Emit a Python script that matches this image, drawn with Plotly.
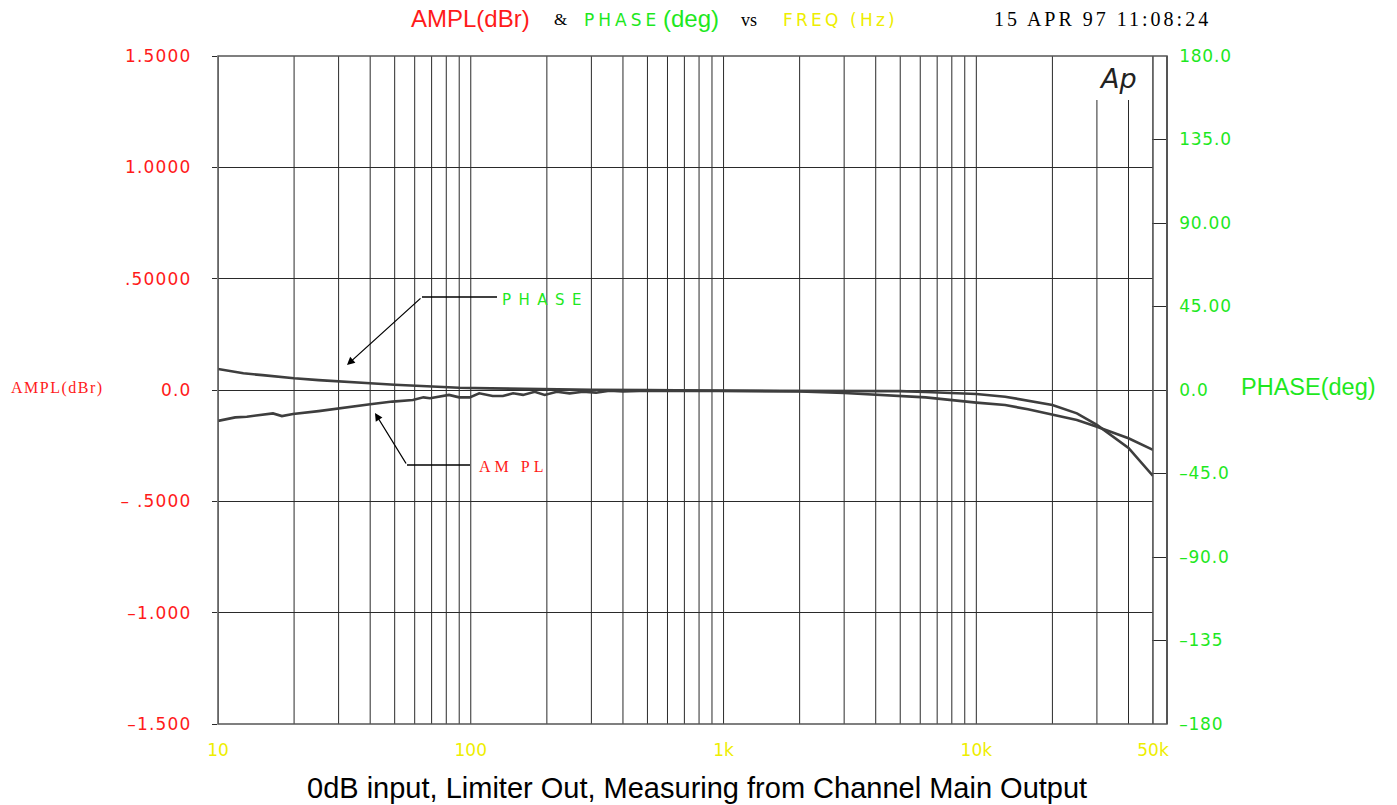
import plotly.graph_objects as go

# ---------------- data ----------------
amp_freq = [10, 11.7, 13, 15, 16.5, 17.9, 19.8, 25, 30, 35, 40, 49, 59, 65, 69, 82, 90, 99,
            108, 122, 134, 147, 161, 179, 196, 219, 246, 278, 313, 354, 400, 500, 700,
            1000, 2000, 3000, 5000, 6300, 10000, 13000, 16000, 20000, 25000, 30000, 40000, 50000]
amp_db = [-0.139, -0.123, -0.120, -0.113, -0.105, -0.117, -0.108, -0.095, -0.082, -0.073, -0.064,
          -0.052, -0.045, -0.033, -0.037, -0.022, -0.033, -0.033, -0.015, -0.027, -0.027, -0.015,
          -0.022, -0.008, -0.022, -0.008, -0.015, -0.008, -0.012, -0.003, -0.006, -0.003, -0.003,
          -0.002, -0.003, -0.004, -0.005, -0.009, -0.018, -0.030, -0.048, -0.067, -0.105, -0.157,
          -0.260, -0.386]

phase_freq = [10, 12.6, 15, 17, 20, 25, 30, 40, 50, 60, 90, 120, 200, 300, 500, 1000, 2000, 3000,
              5000, 6300, 10000, 13000, 16000, 20000, 25000, 30000, 40000, 50000]
phase_deg = [11.3, 9.0, 8.0, 7.2, 6.3, 5.3, 4.5, 3.6, 2.8, 2.2, 1.2, 0.9, 0.4, 0.1, 0.0, -0.3, -0.8,
             -1.6, -3.2, -4.0, -6.8, -8.1, -10.4, -13.5, -16.2, -19.8, -26.0, -32.3]

grid_freqs = [10, 20, 30, 40, 50, 60, 70, 80, 90,
              100, 200, 300, 400, 500, 600, 700, 800, 900,
              1000, 2000, 3000, 4000, 5000, 6000, 7000, 8000, 9000,
              10000, 20000, 30000, 40000, 50000]
short_grid_freqs = [30000, 40000]   # lines that stop below the Ap logo

x_tickvals = [10, 100, 1000, 10000, 50000]
x_ticktext = ["10", "100", "1k", "10k", "50k"]

amp_tickvals = [-1.5, -1.0, -0.5, 0.0, 0.5, 1.0, 1.5]
amp_ticktext = ["\u20131.500", "\u20131.000", "\u2013 .5000", "0.0", ".50000", "1.0000", "1.5000"]

phase_tickvals = [-180, -135, -90, -45, 0, 45, 90, 135, 180]
phase_ticktext = ["\u2013180", "\u2013135", "\u201390.0", "\u201345.0", "0.0", "45.00", "90.00", "135.0", "180.0"]

# ---------------- geometry ----------------
W, H = 1397, 805
L, R, T, B = 218, 230, 56, 81
PW = W - L - R          # 949
PH = H - T - B          # 668
X_DOM_END = 935 / PW    # main plot ends at 50k, narrow phase strip follows
AMP_RANGE = [-1.5, 1.5]
PH_RANGE = [-180, 180]


def px(x):
    return (x - L) / PW


def py(y):
    return (H - B - y) / PH


def amp_at_pixel(y):
    return AMP_RANGE[1] - (y - T) / PH * (AMP_RANGE[1] - AMP_RANGE[0])


RED = "#ff1a1a"
GREEN = "#1ee81e"
YELLOW = "#eeee00"
CURVE = "#3e3e3e"
GRID = "#2a2a2a"
SANS = "Liberation Sans, Arial, sans-serif"
PLOTTER = "DejaVu Sans, sans-serif"
SERIF = "Liberation Serif, serif"


def spaced(text, sp):
    return '<span style="letter-spacing:%gpx">%s</span>' % (sp, text)


fig = go.Figure()

# vertical grid lines
gx, gy = [], []
short_top = amp_at_pixel(100)
for f in grid_freqs:
    top = short_top if f in short_grid_freqs else AMP_RANGE[1]
    gx += [f, f, None]
    gy += [AMP_RANGE[0], top, None]
fig.add_trace(go.Scatter(x=gx, y=gy, mode="lines", line=dict(color=GRID, width=1),
                         hoverinfo="skip", showlegend=False))

# curves
fig.add_trace(go.Scatter(x=amp_freq, y=amp_db, mode="lines", name="AMPL",
                         line=dict(color=CURVE, width=2.6), showlegend=False))
fig.add_trace(go.Scatter(x=phase_freq, y=phase_deg, mode="lines", name="PHASE", yaxis="y2",
                         line=dict(color=CURVE, width=2.6), showlegend=False))

fig.update_layout(
    width=W, height=H,
    margin=dict(l=L, r=R, t=T, b=B, pad=0),
    paper_bgcolor="white", plot_bgcolor="white",
    xaxis=dict(type="log", range=[1, 4.69897], domain=[0, X_DOM_END],
               showgrid=False, zeroline=False, showline=False, ticks="",
               tickvals=x_tickvals, ticktext=x_ticktext,
               tickfont=dict(color=YELLOW, size=17, family=PLOTTER),
               ticklabelstandoff=14),
    yaxis=dict(range=AMP_RANGE, tickvals=amp_tickvals,
               ticktext=[spaced(t, 1.2) for t in amp_ticktext],
               showgrid=True, gridcolor=GRID, gridwidth=1, zeroline=False,
               showline=False, ticks="outside", ticklen=5, tickcolor=GRID,
               tickfont=dict(color=RED, size=17, family=PLOTTER),
               ticklabelstandoff=17),
    yaxis2=dict(range=PH_RANGE, overlaying="y", anchor="free", position=1.0, side="right",
                tickvals=phase_tickvals, ticktext=[spaced(t, 0.8) for t in phase_ticktext],
                showgrid=False, zeroline=False, showline=True, linecolor="#555", linewidth=1.5,
                ticks="inside", ticklen=14, tickcolor=GRID,
                tickfont=dict(color=GREEN, size=17, family=PLOTTER),
                ticklabelstandoff=8),
)

shapes = [
    dict(type="rect", xref="paper", yref="paper", x0=0, x1=1, y0=0, y1=1,
         line=dict(color="#555", width=1.5), layer="above"),
    dict(type="line", xref="paper", yref="paper", x0=X_DOM_END, x1=X_DOM_END, y0=0, y1=1,
         line=dict(color="#555", width=1.5), layer="above"),
    # leader lines of the labels
    dict(type="line", xref="paper", yref="paper", x0=px(422), x1=px(497), y0=py(297), y1=py(297),
         line=dict(color="black", width=1.3)),
    dict(type="line", xref="paper", yref="paper", x0=px(407), x1=px(470), y0=py(465), y1=py(465),
         line=dict(color="black", width=1.3)),
]
fig.update_layout(shapes=shapes)

ann = []


def text(x, y, t, color, size, family, xanchor="left", **kw):
    ann.append(dict(xref="paper", yref="paper", x=px(x), y=py(y), text=t, showarrow=False,
                    xanchor=xanchor, yanchor="middle",
                    font=dict(color=color, size=size, family=family, **kw)))


# header
text(409, 19, "AMPL(dBr)", RED, 24, SANS)
text(552, 20, "&amp;", "black", 17, SERIF)
text(582, 20, spaced("PHASE", 4), GREEN, 17, PLOTTER)
text(661, 19, "(deg)", GREEN, 24, SANS)
text(739, 20, "vs", "black", 18, SERIF)
text(781, 20, spaced("FREQ (Hz)", 3.2), YELLOW, 17, PLOTTER)
text(992, 19, spaced("15 APR 97 11:08:24", 3), "black", 20, SERIF)

# axis titles
text(9, 388, spaced("AMPL(dBr)", 1.5), RED, 16, SERIF)
text(1239, 387, "PHASE(deg)", GREEN, 23.5, SANS)

# curve labels
text(500, 300, spaced("PHASE", 7.5), GREEN, 15, PLOTTER)
text(477, 466, spaced("AM PL", 4), RED, 16, SERIF)

# Ap logo
text(1118, 79, "Ap", "#222", 27, PLOTTER, xanchor="center", style="italic", weight=200)

# caption
text(697, 788, "0dB input, Limiter Out, Measuring from Channel Main Output", "black", 29, SANS,
     xanchor="center")

# arrows
ann.append(dict(xref="paper", yref="paper", x=px(347), y=py(365), ax=422 - 347, ay=297 - 365,
                text="", showarrow=True, arrowhead=2, arrowsize=1.2, arrowwidth=1.3,
                arrowcolor="black"))
ann.append(dict(xref="paper", yref="paper", x=px(375), y=py(413), ax=407 - 375, ay=465 - 413,
                text="", showarrow=True, arrowhead=2, arrowsize=1.2, arrowwidth=1.3,
                arrowcolor="black"))

fig.update_layout(annotations=ann)

fig.write_html("out.html", config={"displayModeBar": False},
               post_script="document.body.style.margin='0';document.body.style.overflow='hidden';")
